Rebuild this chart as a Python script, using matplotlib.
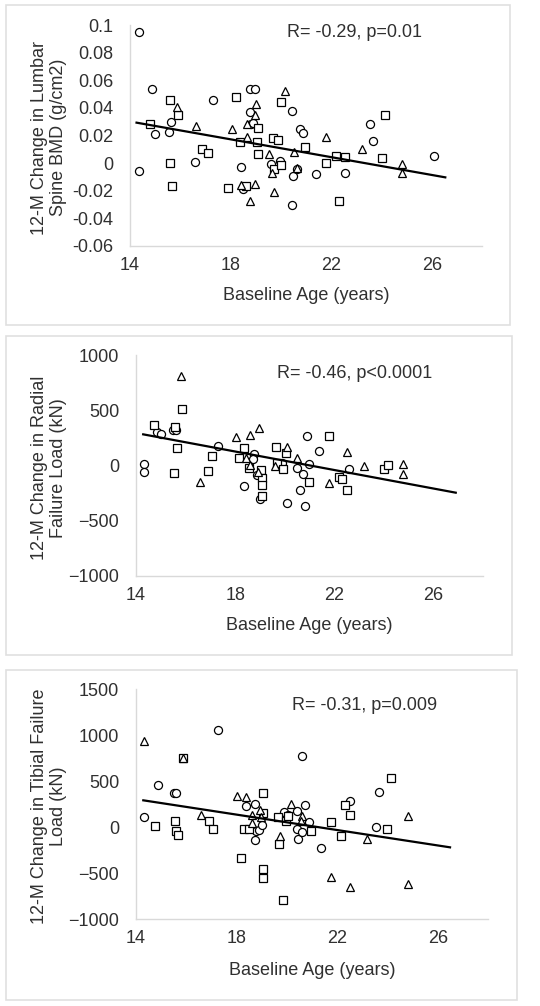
import numpy as np
import matplotlib.pyplot as plt
from matplotlib.patches import Rectangle

plt.rcParams['font.family'] = ['Liberation Sans', 'DejaVu Sans']

# ---- panel 1: lumbar spine BMD ----
bmd_circ_x = [14.36, 14.36, 14.87, 15.0, 15.57, 15.65, 16.6, 17.3, 18.4, 18.5, 18.78, 18.97,
              18.78, 18.83, 18.9, 19.6, 19.97, 20.46, 20.48, 20.46, 20.65, 20.75, 20.87,
              21.38, 22.57, 23.55, 23.68, 26.1]
bmd_circ_y = [0.095, -0.006, 0.054, 0.021, 0.0225, 0.030, 0.001, 0.0457, -0.0025, -0.019,
              0.0534, 0.054, 0.0368, 0.0283, 0.029, -0.0005, 0.0015, 0.038, -0.009, -0.030,
              -0.004, 0.025, 0.022, -0.008, -0.007, 0.028, 0.016, 0.005]
bmd_sq_x = [14.78, 15.61, 15.9, 15.61, 15.69, 16.88, 17.11, 17.91, 18.22, 18.38, 18.63, 19.1,
            19.04, 19.11, 19.69, 19.89, 20.02, 19.72, 19.99, 20.96, 21.79, 22.19, 22.55, 22.32,
            24.03, 24.16]
bmd_sq_y = [0.0285, 0.046, 0.0345, 0.0, -0.0165, 0.0105, 0.0075, -0.0178, 0.048, 0.0152,
            -0.0162, 0.0257, 0.0152, 0.0065, 0.018, 0.0164, 0.0439, -0.0043, -0.001, 0.0117,
            0.0002, 0.0053, 0.0041, -0.0273, 0.0036, 0.035]
bmd_tri_x = [15.85, 16.62, 18.06, 18.64, 18.66, 18.42, 18.79, 18.97, 19.01, 18.97, 19.53,
             19.66, 19.74, 20.17, 20.54, 20.64, 21.78, 23.22, 24.81, 24.81]
bmd_tri_y = [0.0408, 0.027, 0.025, 0.0285, 0.019, -0.0155, -0.0276, -0.015, 0.0425, 0.0345,
             0.0063, -0.0075, -0.0212, 0.0524, 0.0077, -0.0032, 0.0186, 0.0102, -0.0007, -0.0075]
bmd_fit_x = [14.26, 26.54]
bmd_fit_y = [0.0293, -0.0103]

# ---- panel 2: radial failure load ----
rad_circ_x = [14.32, 14.32, 14.83, 15.0, 15.5, 15.6, 17.3, 18.37, 18.75, 18.72, 18.9, 19.0,
              19.9, 20.1, 20.5, 20.6, 20.75, 20.8, 20.9, 21.0, 21.4, 22.6]
rad_circ_y = [10, -56, 306, 282, 320, 320, 175, -184, 100, 60, -88, -300, 20, -336, -20,
              -222, -80, -364, 267, 14, 133, -30]
rad_sq_x = [14.74, 15.57, 15.85, 15.67, 15.55, 16.9, 17.06, 18.36, 18.17, 18.55, 19.04, 19.07,
            19.07, 19.1, 19.66, 19.7, 19.94, 20.05, 21.0, 21.8, 22.2, 22.3, 22.5, 24.0, 24.15]
rad_sq_y = [366, 351, 511, 155, -65, -53, 90, 155, 65, -20, -40, -110, -176, -276, 164, 25,
            -35, 110, -152, 266, -100, -120, -222, -35, 5]
rad_tri_x = [15.83, 16.58, 18.04, 18.6, 18.95, 18.44, 18.6, 18.92, 19.62, 20.1, 20.5, 21.8,
             22.5, 23.2, 24.77, 24.77]
rad_tri_y = [813, -146, 255, 275, 340, 65, 5, -55, 0, 165, 70, -160, 120, -5, 15, -75]
rad_fit_x = [14.29, 26.9]
rad_fit_y = [282, -246]

# ---- panel 3: tibial failure load ----
tib_circ_x = [14.33, 14.86, 15.5, 15.6, 17.28, 18.38, 18.73, 18.77, 18.75, 18.9, 19.0, 19.9,
              20.03, 20.4, 20.6, 20.73, 20.4, 20.45, 20.6, 20.9, 21.35, 22.5, 23.65, 23.55]
tib_circ_y = [109, 457, 366, 366, 1058, 232, 254, -47, -145, -30, 25, 163, 127, 170, 775, 236,
              -22, -130, -58, 51, -228, 286, 377, -4]
tib_sq_x = [14.74, 15.57, 15.58, 15.67, 15.85, 16.9, 17.06, 18.17, 18.3, 18.5, 19.06, 19.04,
            19.06, 19.07, 19.67, 19.63, 19.84, 19.96, 20.04, 20.95, 21.77, 22.16, 22.3, 22.53,
            24.0, 24.15]
tib_sq_y = [14, 62, -40, -83, 746, 62, -22, -337, -18, -18, 370, 152, -456, -554, -185, 105,
            -790, 62, 116, -40, 51, -94, 239, 134, -22, 533]
tib_tri_x = [14.33, 15.85, 16.57, 18.02, 18.38, 18.6, 18.63, 18.95, 18.97, 19.74, 20.16, 20.6,
             20.55, 21.77, 22.53, 23.2, 24.8, 24.8]
tib_tri_y = [931, 746, 134, 333, 322, 134, 43, 181, 105, -101, 250, 116, 62, -547, -656, -130,
             116, -620]
tib_fit_x = [14.29, 26.49]
tib_fit_y = [290, -221]

age_ticks = [14, 18, 22, 26]
bmd_ticks = [-0.06, -0.04, -0.02, 0, 0.02, 0.04, 0.06, 0.08, 0.1]
bmd_ticklabels = ['-0.06', '-0.04', '-0.02', '0', '0.02', '0.04', '0.06', '0.08', '0.1']
rad_ticks = [-1000, -500, 0, 500, 1000]
tib_ticks = [-1000, -500, 0, 500, 1000, 1500]

W, H = 540, 1006
TXT = '#303030'
GRID = '#d9d9d9'
FS = 13


def box(fig, x0, y0, x1, y1):
    # light panel frame, given in pixels from top-left
    fig.patches.append(Rectangle((x0 / W, 1 - y1 / H), (x1 - x0) / W, (y1 - y0) / H,
                                 transform=fig.transFigure, fill=False,
                                 edgecolor='#e0e0e0', linewidth=1.2))


def panel(fig, rect, circ, sq, tri, fit, yticks, ylim, ylabel, stat, stat_xy, yticklabels=None):
    l, t, r, b = rect
    ax = fig.add_axes([l / W, 1 - b / H, (r - l) / W, (b - t) / H])
    mk = dict(linestyle='none', markerfacecolor='white', markeredgecolor='black',
              markeredgewidth=0.9, clip_on=False)
    ax.plot(*circ, marker='o', markersize=5.8, **mk)
    ax.plot(*sq, marker='s', markersize=5.4, **mk)
    ax.plot(*tri, marker='^', markersize=6.0, **mk)
    ax.plot(*fit, color='black', linewidth=1.6)
    ax.set_xlim(14, 28)
    ax.set_ylim(*ylim)
    ax.set_xticks(age_ticks)
    ax.set_yticks(yticks)
    if yticklabels is not None:
        ax.set_yticklabels(yticklabels)
    for s in ['top', 'right']:
        ax.spines[s].set_visible(False)
    for s in ['left', 'bottom']:
        ax.spines[s].set_color(GRID)
        ax.spines[s].set_linewidth(1.0)
    ax.tick_params(axis='both', length=0, labelsize=FS, colors=TXT)
    ax.tick_params(axis='y', pad=12)
    ax.tick_params(axis='x', pad=8)
    ax.set_xlabel('Baseline Age (years)', fontsize=FS, color=TXT, va='center')
    ax.xaxis.set_label_coords(0.5, -0.222)
    ax.set_ylabel(ylabel, fontsize=FS, color=TXT, linespacing=1.15, va='center')
    ax.yaxis.set_label_coords((49 - l) / (r - l), 0.49)
    ax.text(stat_xy[0], stat_xy[1], stat, transform=ax.transAxes, fontsize=FS, color=TXT,
            ha='left', va='center')
    return ax


fig = plt.figure(figsize=(W / 100, H / 100), dpi=100)
fig.patch.set_facecolor('white')

box(fig, 6, 5, 510, 325)
box(fig, 6, 336, 512, 655)
box(fig, 6, 670, 517, 1000)

panel(fig, (130, 25, 482, 246),
      (bmd_circ_x, bmd_circ_y), (bmd_sq_x, bmd_sq_y), (bmd_tri_x, bmd_tri_y),
      (bmd_fit_x, bmd_fit_y), bmd_ticks, (-0.06, 0.1),
      '12-M Change in Lumbar\nSpine BMD (g/cm2)', 'R= -0.29, p=0.01', (0.446, 0.968),
      yticklabels=bmd_ticklabels)
panel(fig, (136, 355, 483, 576),
      (rad_circ_x, rad_circ_y), (rad_sq_x, rad_sq_y), (rad_tri_x, rad_tri_y),
      (rad_fit_x, rad_fit_y), rad_ticks, (-1000, 1000),
      '12-M Change in Radial\nFailure Load (kN)', 'R= -0.46, p<0.0001', (0.406, 0.918))
panel(fig, (136, 689, 488, 919),
      (tib_circ_x, tib_circ_y), (tib_sq_x, tib_sq_y), (tib_tri_x, tib_tri_y),
      (tib_fit_x, tib_fit_y), tib_ticks, (-1000, 1500),
      '12-M Change in Tibial Failure\nLoad (kN)', 'R= -0.31, p=0.009', (0.443, 0.93))

fig.savefig('out.png', dpi=100)
